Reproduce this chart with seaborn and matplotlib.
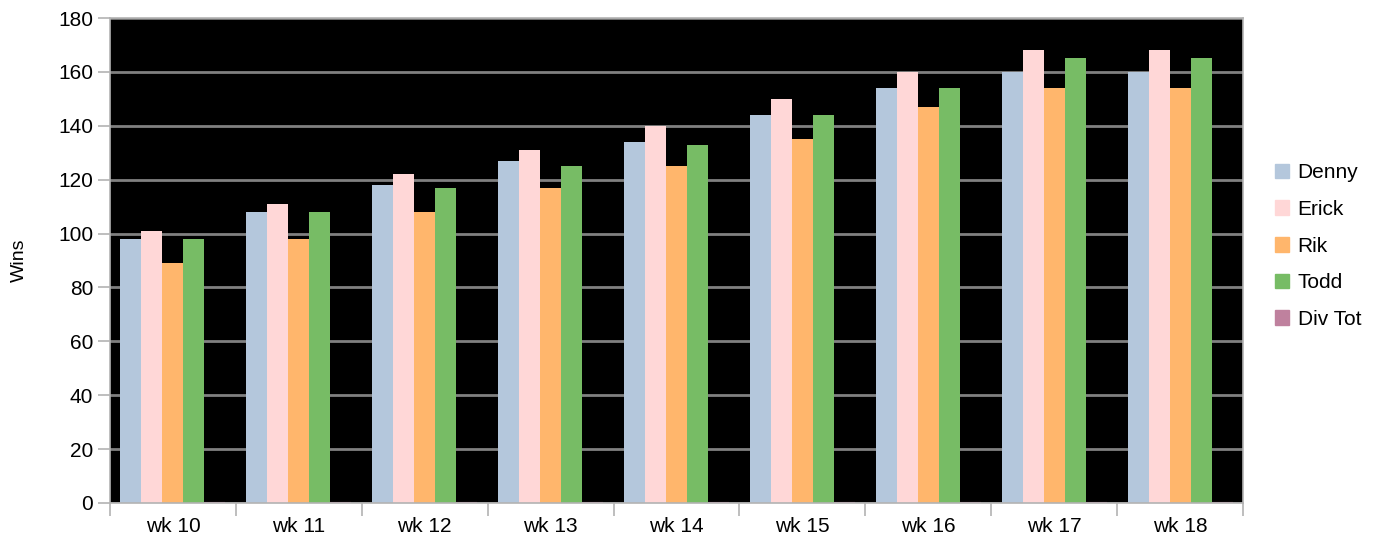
import pandas as pd
import seaborn as sns
import matplotlib.pyplot as plt
from matplotlib.ticker import FixedLocator

weeks = ['wk 10', 'wk 11', 'wk 12', 'wk 13', 'wk 14', 'wk 15', 'wk 16', 'wk 17', 'wk 18']
denny = [98, 108, 118, 127, 134, 144, 154, 160, 160]
erick = [101, 111, 122, 131, 140, 150, 160, 168, 168]
rik = [89, 98, 108, 117, 125, 135, 147, 154, 154]
todd = [98, 108, 117, 125, 133, 144, 154, 165, 165]
div_tot = [0, 0, 0, 0, 0, 0, 0, 0, 0]

players = ['Denny', 'Erick', 'Rik', 'Todd', 'Div Tot']
colors = ['#b4c7dc', '#ffd7d7', '#ffb66c', '#77bc65', '#bf819e']

rows = []
for name, vals in zip(players, [denny, erick, rik, todd, div_tot]):
    for wk, v in zip(weeks, vals):
        rows.append({'week': wk, 'player': name, 'wins': v})
df = pd.DataFrame(rows)

sns.set_style('white')
plt.rcParams['font.family'] = ['Liberation Sans', 'DejaVu Sans']
plt.rcParams['text.color'] = 'black'
plt.rcParams['axes.labelcolor'] = 'black'
plt.rcParams['xtick.color'] = 'black'
plt.rcParams['ytick.color'] = 'black'

fig = plt.figure(figsize=(13.77, 5.52), dpi=100)
ax = fig.add_axes([110 / 1377, 1 - 503 / 552, 1133 / 1377, 485 / 552])
ax.set_facecolor('black')

sns.barplot(data=df, x='week', y='wins', hue='player', hue_order=players,
            palette=colors, width=0.834, gap=0, saturation=1, ax=ax,
            linewidth=0, legend=False)
# Div Tot shows only as a thin sliver at zero
for p in ax.patches[-9:]:
    p.set_edgecolor(colors[-1])
    p.set_linewidth(1.5)

ax.set_ylim(0, 180)
ax.set_xlim(-0.5, 8.5)
ax.set_yticks(range(0, 181, 20))
ax.yaxis.grid(True, color='#808080', linewidth=2)
ax.set_axisbelow(True)
ax.set_xlabel('')
ax.set_ylabel('Wins', fontsize=14, labelpad=22)

ax.xaxis.set_minor_locator(FixedLocator([i - 0.5 for i in range(10)]))
ax.tick_params(axis='x', which='major', length=0, labelsize=15, pad=10, labelcolor='black')
ax.tick_params(axis='x', which='minor', bottom=True, length=9, color='#b3b3b3', width=1.2)
ax.tick_params(axis='y', which='major', left=True, length=9, color='#b3b3b3', width=1.2,
               labelsize=15, pad=3, labelcolor='black')
for s in ax.spines.values():
    s.set_visible(True)
    s.set_color('#b3b3b3')
    s.set_linewidth(1.2)

handles = [plt.Rectangle((0, 0), 1, 1, color=c) for c in colors]
fig.legend(handles, players, loc='center left', bbox_to_anchor=(1256 / 1377, 1 - 246 / 552),
           frameon=False, fontsize=15, handlelength=0.7, handleheight=0.7,
           handletextpad=0.4, labelspacing=0.85, labelcolor='black')

fig.savefig('out.png', dpi=100)
